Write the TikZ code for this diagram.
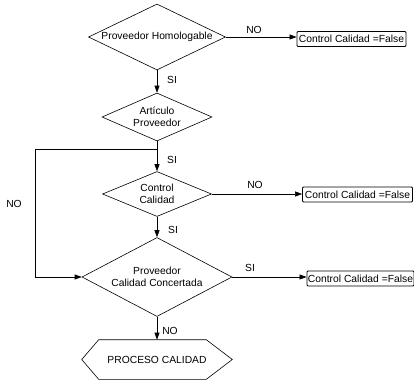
\documentclass[tikz,border=0pt]{standalone}
\usepackage{fontspec}
\setmainfont{Liberation Sans}
\usetikzlibrary{shapes.geometric,arrows.meta}
\begin{document}
\begin{tikzpicture}[x=1pt,y=-1pt,
  font=\fontsize{10.3}{12}\selectfont,
  line width=0.6pt,
  dec/.style={diamond,draw,inner sep=0pt,align=center},
  res/.style={draw,rounded corners=1pt,line width=0.8pt,inner sep=1pt,minimum height=15pt},
  arr/.style={-{Triangle[length=7pt,width=5pt]}},
  lbl/.style={inner sep=0pt}]
\useasboundingbox (0,0) rectangle (414,380);
\node[dec,aspect=2.08,minimum width=137pt,minimum height=66pt] (d1) at (157,37) {Proveedor Homologable};
\node[dec,aspect=2.29,minimum width=110pt,minimum height=48pt] (d2) at (157,117) {Artículo\\Proveedor};
\node[dec,aspect=2.42,minimum width=109pt,minimum height=45pt] (d3) at (157,194) {Control\\Calidad};
\node[dec,aspect=1.9,minimum width=150pt,minimum height=79pt] (d4) at (157,277) {Proveedor\\Calidad Concertada};
\node[minimum width=150pt,minimum height=39pt,inner sep=0pt] (hx) at (157,359.5) {PROCESO CALIDAD};
\draw (hx.west) -- ([xshift=17pt]hx.north west) -- ([xshift=-26pt]hx.north east) -- (hx.east)
  -- ([xshift=-26pt]hx.south east) -- ([xshift=17pt]hx.south west) -- cycle;
\node[res,minimum width=109pt] (b1) at (351.5,39) {Control Calidad =False};
\node[res,minimum width=110pt] (b2) at (357.5,194.5) {Control Calidad =False};
\node[res,minimum width=105pt] (b3) at (360.5,278.5) {Control Calidad =False};
\coordinate (j) at (157,149);
\coordinate (lp) at (35,149);
\draw[arr] (d1.east) -- (b1.west |- d1.east);
\draw[arr] (d1.south) -- (d2.north);
\draw (d2.south) -- (j);
\draw[arr] (j) -- (d3.north);
\draw (j) -- (lp);
\draw[arr] (lp) |- (d4.west);
\draw[arr] (d3.east) -- (b2.west |- d3.east);
\draw[arr] (d3.south) -- (d4.north);
\draw[arr] (d4.east) -- (b3.west |- d4.east);
\draw[arr] (d4.south) -- (hx.north);
\node[lbl] (l1) at (254,30) {NO};
\node[lbl] (l2) at (172,80) {SI};
\node[lbl] (l3) at (172,160) {SI};
\node[lbl] (l4) at (255,185) {NO};
\node[lbl] (l5) at (14,204) {NO};
\node[lbl] (l6) at (173,230) {SI};
\node[lbl] (l7) at (250,268) {SI};
\node[lbl] (l8) at (170,331) {NO};
\end{tikzpicture}
\end{document}
